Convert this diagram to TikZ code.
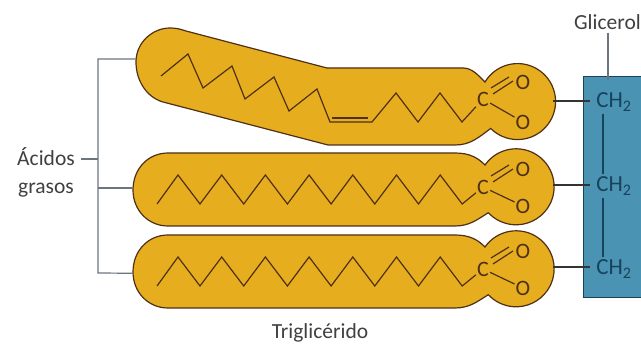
\documentclass[tikz,border=0pt]{standalone}
\usepackage{fontspec}
\setmainfont{Carlito}
\definecolor{fatyellow}{HTML}{E6AE1E}
\definecolor{fatline}{HTML}{4F3015}
\definecolor{glycblue}{HTML}{4A93B2}
\definecolor{glycdark}{HTML}{17435C}
\definecolor{leadgrey}{HTML}{6C757E}
\begin{document}
\begin{tikzpicture}[x=1pt, y=-1pt]
\tikzset{label/.style={font=\fontsize{21.5}{28}\selectfont, text=black!75, inner sep=6pt, align=center}}
\tikzset{fatty/.style={draw=fatline, line width=1.2pt, fill=fatyellow}}
\tikzset{chain/.style={draw=fatline, line width=1.2pt, line join=miter}}
\tikzset{atom/.style={font=\fontsize{22}{23}\selectfont, text=fatline, inner sep=1pt}}
\tikzset{ch/.style={font=\fontsize{23}{24}\selectfont, text=glycdark, inner sep=6pt, inner ysep=2pt}}
\tikzset{lead/.style={draw=leadgrey, line width=1.2pt}}
\tikzset{bond/.style={draw=black!80, line width=1.2pt}}
\useasboundingbox (0,0) rectangle (641,344);

% glycerol block
\node[draw=glycdark, line width=1.3pt, fill=glycblue, minimum width=58pt, minimum height=221pt, inner sep=0pt, anchor=north west] (glyc) at (583,76) {};
\node[label, anchor=east, inner xsep=0pt, inner ysep=3pt] (glicerol) at (641,22) {Glicerol};
\node[ch] (ch1) at (614,102) {CH\textsubscript{2}};
\node[ch] (ch2) at (614,186) {CH\textsubscript{2}};
\node[ch] (ch3) at (614,269) {CH\textsubscript{2}};
\coordinate (glictop) at (608,80);
\draw[lead] (glicerol.south -| glictop) -- (glictop);
\draw[draw=glycdark, line width=1.3pt] ([xshift=-11pt]ch1.south) -- ([xshift=-11pt]ch2.north);
\draw[draw=glycdark, line width=1.3pt] ([xshift=-11pt]ch2.south) -- ([xshift=-11pt]ch3.north);

% first acid, the bent one
\draw[fatty] (186,31) -- (327,68) -- (463,68) .. controls (472,68) and (478,75) .. (485,82)
  arc[start angle=211, end angle=495, radius=38] .. controls (478,138) and (470,145) .. (455,145)
  -- (328,145) -- (163,102) .. controls (146,97) and (136,80) .. (136,62) .. controls (136,42) and (153,28) .. (170,28) .. controls (176,28) and (180,29) .. (186,31) -- cycle;
\node[atom] (c1) at (483,99) {C};
\node[atom] (oa1) at (523,82) {O};
\node[atom] (ob1) at (523,122) {O};
\draw[chain] (161,76) -- (188,54) -- (203,88) -- (232,66) -- (245,99) -- (274,77) -- (289,111) -- (317,89) -- (330,122) -- (372,122) -- (396,93) -- (418,122) -- (440,93) -- (462,122) -- (c1);
\draw[chain] (332,118) -- (368,118);
\coordinate (head1) at (553,101);
\coordinate (tail1) at (136,59);

% the two straight acids
\foreach \row/\dy in {2/0, 3/82}{
  \draw[fatty] (168,153+\dy) -- (455,153+\dy) .. controls (470,153+\dy) and (478,158+\dy) .. (485,165+\dy)
    arc[start angle=215, end angle=497, radius=38] .. controls (478,219+\dy) and (470,226+\dy) .. (455,226+\dy)
    -- (168,226+\dy) .. controls (148,226+\dy) and (133,210+\dy) .. (133,190+\dy) .. controls (133,169+\dy) and (148,153+\dy) .. (168,153+\dy) -- cycle;
  \node[atom] (c\row) at (483,187+\dy) {C};
  \node[atom] (oa\row) at (523,169+\dy) {O};
  \node[atom] (ob\row) at (523,206+\dy) {O};
  \draw[chain] (157,204+\dy) \foreach \i in {0,...,6}{ -- (178+43.7*\i,175+\dy) -- (200+43.7*\i,204+\dy)} -- (c\row);
  \coordinate (head\row) at (553,185+\dy);
  \coordinate (tail\row) at (133,188+\dy*1.04);
}

% carboxyl bonds
\foreach \row in {1,2,3}{
  \draw[chain] (c\row) ++(10,-5) -- ++(20,-13);
  \draw[chain] (c\row) ++(8,-11) -- ++(18,-11);
  \draw[chain] (c\row) -- (ob\row);
  \draw[bond] (head\row) -- (ch\row.west |- head\row);
}

% bracket on the left
\node[label] (acidos) at (46,172) {Ácidos\\grasos};
\node[label] (trig) at (320,333) {Triglicérido};
\coordinate (brtop) at (98,59);
\coordinate (brmid) at (98,159);
\coordinate (brbot) at (98,273);
\draw[lead] (tail1) -- (brtop) -- (brbot) -- (tail3);
\draw[lead] (brmid |- tail2) -- (tail2);
\draw[lead] (acidos.east |- brmid) -- (brmid);
\end{tikzpicture}
\end{document}
